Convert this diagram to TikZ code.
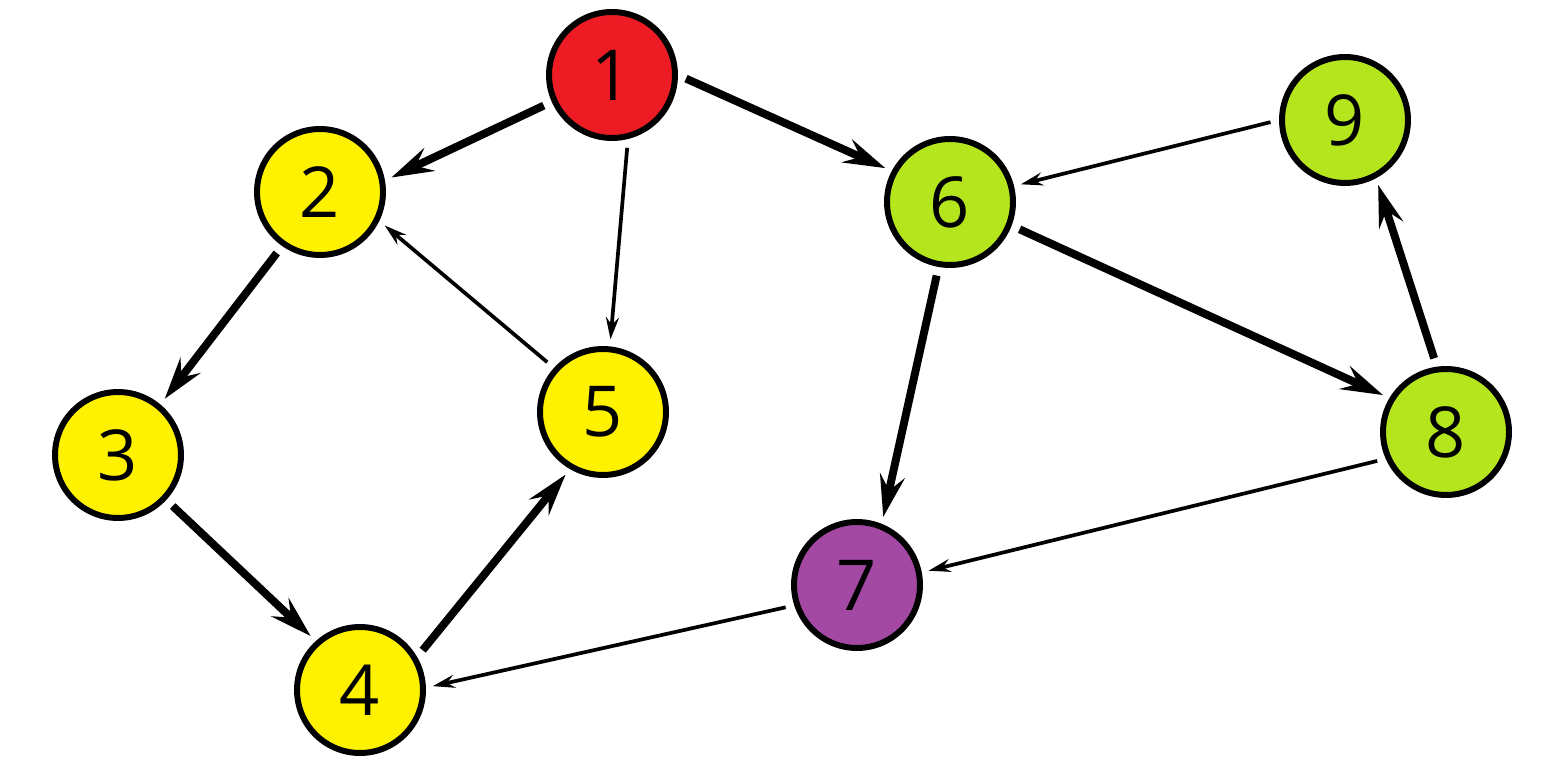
\documentclass[tikz,border=0pt]{standalone}
\usepackage{fontspec}
\setmainfont{Open Sans}
\usetikzlibrary{arrows.meta}
\definecolor{nodered}{HTML}{ED1C24}
\definecolor{nodeyellow}{HTML}{FFF200}
\definecolor{nodegreen}{HTML}{B5E61D}
\definecolor{nodepurple}{HTML}{A349A4}
\tikzset{%
	vertex/.style    = {draw, circle, line width=3.4pt, minimum size=2.52cm, inner sep=0pt, font=\fontsize{40}{40}\selectfont},
	heavyedge/.style = {line width=4.5pt, -{Stealth[length=0.84cm,width=0.5cm,inset=0.3cm]}, shorten <=5pt, shorten >=4pt},
	lightedge/.style = {line width=2.1pt, -{Stealth[length=0.44cm,width=0.26cm,inset=0.15cm]}, shorten <=5pt, shorten >=4pt},
}

\begin{document}
\begin{tikzpicture}[x=0.02cm,y=-0.02cm]
	\useasboundingbox (0,0) rectangle (1555,763);
	
	\node[vertex,fill=nodered] (n1) at (612,75) {1};
	\node[vertex,fill=nodeyellow] (n2) at (320,192) {2};
	\node[vertex,fill=nodeyellow] (n3) at (118,455) {3};
	\node[vertex,fill=nodeyellow] (n4) at (360,690) {4};
	\node[vertex,fill=nodeyellow] (n5) at (603,412) {5};
	\node[vertex,fill=nodegreen] (n6) at (950,202) {6};
	\node[vertex,fill=nodepurple] (n7) at (857,585) {7};
	\node[vertex,fill=nodegreen] (n8) at (1446,432) {8};
	\node[vertex,fill=nodegreen] (n9) at (1345,120) {9};
	
	% heavy arcs
	\draw[heavyedge] (n1.204) -- (n2.10);
	\draw[heavyedge] (n1.0) -- (n6.152);
	\draw[heavyedge] (n2.235) -- (n3.50);
	\draw[heavyedge] (n3.317) -- (n4.132);
	\draw[heavyedge] (n4.30) -- (n5.240);
	\draw[heavyedge] (n6.260) -- (n7.68);
	\draw[heavyedge] (n6.339) -- (n8.149);
	\draw[heavyedge] (n8.98) -- (n9.298);
	
	% light arcs
	\draw[lightedge] (n1.284) -- (n5.84);
	\draw[lightedge] (n5.138) -- (n2.334);
	\draw[lightedge] (n9.180) -- (n6.14);
	\draw[lightedge] (n8.204) -- (n7.11);
	\draw[lightedge] (n7.198) -- (n4.2);
\end{tikzpicture}
\end{document}
